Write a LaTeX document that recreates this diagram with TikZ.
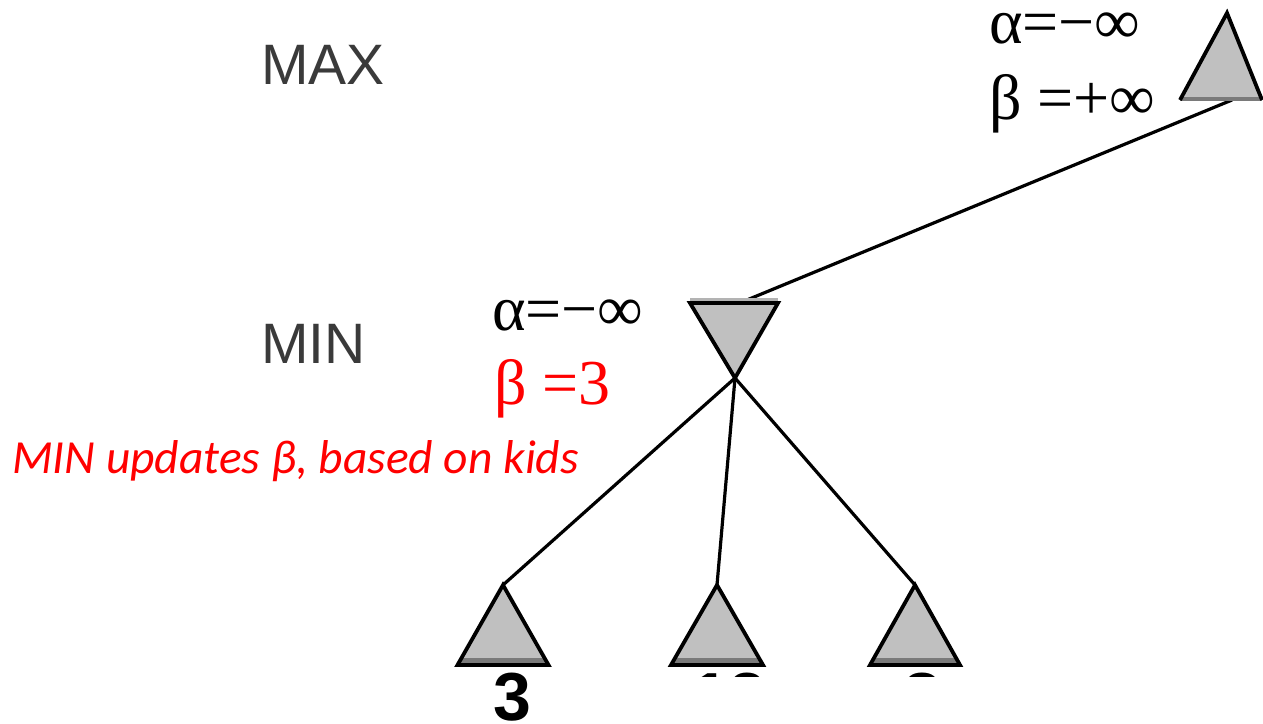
\documentclass[tikz,border=0pt]{standalone}
\usepackage{fontspec}
\setmainfont{Liberation Serif}
\newfontfamily\arialf{Liberation Sans}
\newfontfamily\calif{Carlito}
\definecolor{trigray}{HTML}{C0C0C0}
\definecolor{bandgray}{HTML}{7A7A7A}
\definecolor{lblgray}{HTML}{3A3A3A}
\definecolor{redtxt}{HTML}{FF0000}
\tikzset{
  triline/.style={draw=black, line width=3.8pt, line join=miter},
  edge/.style={draw=black, line width=3.2pt},
  lvl/.style={font=\arialf\fontsize{57}{60}\selectfont, text=lblgray, inner sep=0pt, anchor=base west},
  greek/.style={font=\fontsize{64}{66}\selectfont, inner sep=0pt, anchor=base west},
  leafval/.style={font=\arialf\bfseries\fontsize{68}{70}\selectfont, inner sep=0pt, anchor=base},
  note/.style={font=\calif\itshape\fontsize{47.5}{50}\selectfont, text=redtxt, inner sep=0pt, anchor=base west}
}
\newcommand\drawuptri[4]{%
  \begin{scope}
    \clip (#1,#2) -- (#1-#3,#4) -- (#1+#3,#4) -- cycle;
    \fill[trigray] (#1-#3,#2) rectangle (#1+#3,#4);
    \fill[bandgray] (#1-#3,#4-7) rectangle (#1+#3,#4);
  \end{scope}
  \draw[triline] (#1,#2) -- (#1-#3,#4) -- (#1+#3,#4) -- cycle;
}
\begin{document}
\begin{tikzpicture}[x=1pt,y=-1pt]
\useasboundingbox (0,0) rectangle (1263,723);
% named anchor points
\coordinate (maxb) at (1232,100);
\coordinate (mintop) at (742,302);
\coordinate (minapex) at (735,378);
\coordinate (l1) at (503,585);
\coordinate (l2) at (717,585);
\coordinate (l3) at (915,585);
% connectors
\draw[edge] (maxb) -- (mintop);
\draw[edge] (minapex) -- (l1);
\draw[edge] (minapex) -- (l2);
\draw[edge] (minapex) -- (l3);
% MAX root triangle
\fill[trigray] (1227,13) -- (1180,100) -- (1262,100) -- cycle;
\draw[bandgray, line width=4.5pt] (1180,99) -- (1262,99);
\draw[triline] (1180,100) -- (1227,13) -- (1262,100);
% MIN triangle
\fill[trigray] (690,302) -- (778,302) -- (735,378) -- cycle;
\draw[trigray!80!gray, line width=3pt] (690,299) -- (778,299);
\draw[triline] (690,303) -- (778,303) -- (735,378) -- cycle;
% leaves
\drawuptri{503}{585}{45.5}{665}
\drawuptri{717}{585}{46}{665}
\drawuptri{915}{585}{45}{665}
% leaf values
\node[leafval] (v1) at (512,720) {3};
\begin{scope}
  \clip (600,660) rectangle (1000,676);
  \node[leafval] (v2) at (729,720) {12};
  \node[leafval] (v3) at (922,720) {8};
\end{scope}
% level labels
\node[lvl] (maxlbl) at (261,84) {MAX};
\node[lvl] (minlbl) at (261,363) {MIN};
% alpha beta labels
\node[greek] (a0) at (989,43) {α=−∞};
\node[greek] (b0) at (989,119) {β =+∞};
\node[greek] (a1) at (492,330) {α=−∞};
\node[greek, text=redtxt] (b1) at (494,404) {β =3};
\node[note] (nt) at (12,473) {MIN updates β, based on kids};
\end{tikzpicture}
\end{document}
